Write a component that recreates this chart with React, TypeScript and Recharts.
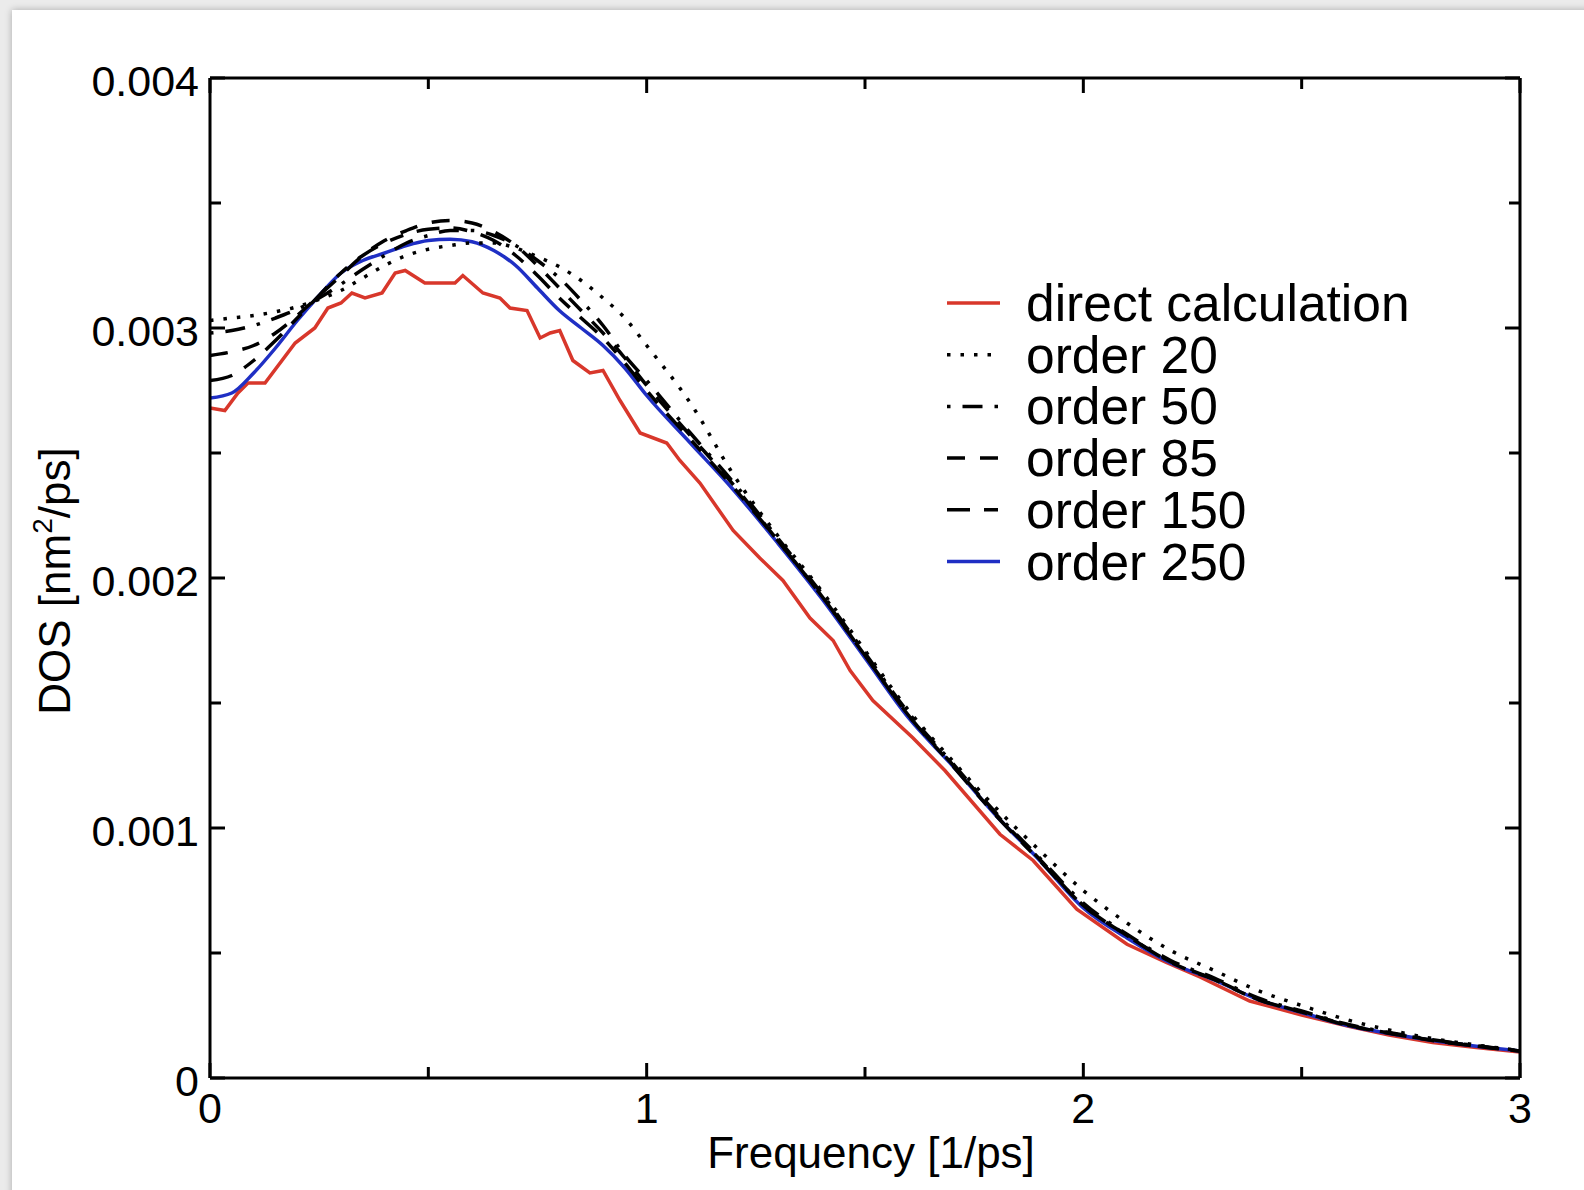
import { LineChart, Line, XAxis, YAxis, Legend } from 'recharts';

const FONT = '"Liberation Sans", Arial, Helvetica, sans-serif';

// direct calculation (red)
const directFreq = [
  0, 0.034, 0.064, 0.087, 0.126, 0.195, 0.24, 0.27, 0.3, 0.325, 0.355, 0.394, 0.424, 0.447, 0.492,
  0.561, 0.579, 0.625, 0.664, 0.687, 0.726, 0.756, 0.779, 0.801, 0.831, 0.87, 0.9, 0.939, 0.985,
  1.046, 1.076, 1.122, 1.198, 1.259, 1.312, 1.374, 1.427, 1.466, 1.518, 1.61, 1.683, 1.809, 1.885,
  1.985, 2.1, 2.19, 2.267, 2.381, 2.5, 2.61, 2.7, 2.8, 2.9, 3.0,
];
const directDos = [
  0.00268, 0.00267, 0.00274, 0.00278, 0.00278, 0.00294, 0.003, 0.00308, 0.0031, 0.00314, 0.00312,
  0.00314, 0.00322, 0.00323, 0.00318, 0.00318, 0.00321, 0.00314, 0.00312, 0.00308, 0.00307, 0.00296,
  0.00298, 0.00299, 0.00287, 0.00282, 0.00283, 0.00271, 0.00258, 0.00254, 0.00247, 0.00238, 0.00219,
  0.00208, 0.00199, 0.00184, 0.00175, 0.00163, 0.00151, 0.00136, 0.00123, 0.000975, 0.00087,
  0.000675, 0.000535, 0.000462, 0.000404, 0.000308, 0.000252, 0.000206, 0.000172, 0.000142,
  0.000122, 0.000104,
];

// common frequency grid for the expansion curves
const orderFreq = [
  0, 0.05, 0.1, 0.15, 0.2, 0.25, 0.3, 0.35, 0.4, 0.45, 0.5, 0.55, 0.6, 0.65, 0.7, 0.75, 0.8, 0.85,
  0.9, 0.95, 1.0, 1.1, 1.2, 1.3, 1.4, 1.5, 1.6, 1.7, 1.8, 1.9, 2.0, 2.1, 2.2, 2.3, 2.4, 2.5, 2.6,
  2.7, 2.8, 2.9, 3.0,
];
const order20 = [
  0.00303, 0.00304, 0.00305, 0.003065, 0.003085, 0.003115, 0.00315, 0.0032, 0.00325, 0.00329,
  0.003315, 0.00333, 0.00334, 0.00334, 0.00332, 0.003285, 0.003245, 0.00319, 0.00312, 0.00304,
  0.00293, 0.0027, 0.00241, 0.00217, 0.00195, 0.00171, 0.00147, 0.00127, 0.00108, 0.00091,
  0.00075, 0.00062, 0.00051, 0.00043, 0.00035, 0.00029, 0.000235, 0.000192, 0.000158, 0.000132,
  0.00011,
];
const order50 = [
  0.00298, 0.00299, 0.00301, 0.00304, 0.003075, 0.00312, 0.003175, 0.003235, 0.00329, 0.00334,
  0.00337, 0.00339, 0.00339, 0.00337, 0.00333, 0.00327, 0.0032, 0.00311, 0.00301, 0.00289, 0.00279,
  0.00258, 0.00238, 0.00216, 0.00194, 0.0017, 0.00146, 0.00126, 0.00106, 0.00088, 0.0007, 0.000575,
  0.00047, 0.0004, 0.00032, 0.000268, 0.000217, 0.000182, 0.000153, 0.000129, 0.000109,
];
const order85 = [
  0.00289, 0.002905, 0.00293, 0.00298, 0.00305, 0.00313, 0.00321, 0.00329, 0.00335, 0.00339,
  0.00342, 0.00343, 0.00342, 0.003385, 0.00333, 0.00325, 0.00316, 0.00307, 0.00298, 0.00288,
  0.00277, 0.00257, 0.00237, 0.00215, 0.00193, 0.00169, 0.00145, 0.001255, 0.001055, 0.000875,
  0.00069, 0.00057, 0.000465, 0.000395, 0.000315, 0.000265, 0.000214, 0.00018, 0.000151,
  0.000128, 0.000108,
];
const order150 = [
  0.00279, 0.00281, 0.00287, 0.00295, 0.00304, 0.00313, 0.00322, 0.00329, 0.00334, 0.003375,
  0.003395, 0.0034, 0.003385, 0.00335, 0.00329, 0.00321, 0.00312, 0.00304, 0.00296, 0.00286,
  0.00275, 0.002555, 0.00236, 0.00215, 0.00193, 0.00169, 0.00145, 0.00125, 0.00105, 0.00087,
  0.00069, 0.00057, 0.000463, 0.000393, 0.000314, 0.000264, 0.000213, 0.000179, 0.00015,
  0.000127, 0.000108,
];
const order250 = [
  0.00272, 0.00274, 0.00282, 0.00292, 0.00303, 0.00313, 0.00322, 0.00327, 0.0033, 0.00333, 0.00335,
  0.003355, 0.003345, 0.00331, 0.00325, 0.00316, 0.00307, 0.003, 0.00293, 0.00284, 0.00273, 0.00254,
  0.00235, 0.00214, 0.00192, 0.00168, 0.00144, 0.00125, 0.00105, 0.00087, 0.00068, 0.00056,
  0.00046, 0.000392, 0.000314, 0.000262, 0.000212, 0.000178, 0.00015, 0.000127, 0.000108,
];

const xTicks = [0, 0.5, 1, 1.5, 2, 2.5, 3];
const yTicks = [0, 0.0005, 0.001, 0.0015, 0.002, 0.0025, 0.003, 0.0035, 0.004];

const toPoints = (freq: number[], dos: number[]) => freq.map((f, i) => ({ f, v: dos[i] }));

interface SeriesDef {
  label: string;
  color: string;
  dash?: string;
  points: { f: number; v: number }[];
  type: 'linear' | 'monotone';
}

const DIRECT: SeriesDef = { label: 'direct calculation', color: '#d8372b', points: toPoints(directFreq, directDos), type: 'linear' };
const O20: SeriesDef = { label: 'order 20', color: '#000', dash: '3.5 10', points: toPoints(orderFreq, order20), type: 'monotone' };
const O50: SeriesDef = { label: 'order 50', color: '#000', dash: '3.5 12 20 12', points: toPoints(orderFreq, order50), type: 'monotone' };
const O85: SeriesDef = { label: 'order 85', color: '#000', dash: '18 15', points: toPoints(orderFreq, order85), type: 'monotone' };
const O150: SeriesDef = { label: 'order 150', color: '#000', dash: '23 14 14 14', points: toPoints(orderFreq, order150), type: 'monotone' };
const O250: SeriesDef = { label: 'order 250', color: '#1f2fc4', points: toPoints(orderFreq, order250), type: 'monotone' };

const LEGEND_ORDER = [DIRECT, O20, O50, O85, O150, O250];
const DRAW_ORDER = [DIRECT, O250, O20, O50, O85, O150];

const isMajorY = (v: number) => Math.abs(v * 1000 - Math.round(v * 1000)) < 1e-6;

function BottomTick({ x, y, payload }: any) {
  const major = Number.isInteger(payload.value);
  return (
    <g>
      <line x1={x} x2={x} y1={y} y2={y - (major ? 15 : 11)} stroke="#000" strokeWidth={3} />
      {major && (
        <text x={x} y={y + 14} dy="0.71em" textAnchor="middle" fontSize={43} fontFamily={FONT} fill="#000">
          {payload.value}
        </text>
      )}
    </g>
  );
}

function TopTick({ x, y, payload }: any) {
  const major = Number.isInteger(payload.value);
  return <line x1={x} x2={x} y1={y} y2={y + (major ? 15 : 11)} stroke="#000" strokeWidth={3} />;
}

function LeftTick({ x, y, payload }: any) {
  const major = isMajorY(payload.value);
  return (
    <g>
      <line x1={x} x2={x + (major ? 15 : 11)} y1={y} y2={y} stroke="#000" strokeWidth={3} />
      {major && (
        <text x={x - 11} y={y + 3} dy="0.355em" textAnchor="end" fontSize={43} fontFamily={FONT} fill="#000">
          {payload.value === 0 ? '0' : payload.value.toFixed(3)}
        </text>
      )}
    </g>
  );
}

function RightTick({ x, y, payload }: any) {
  const major = isMajorY(payload.value);
  return <line x1={x} x2={x - (major ? 15 : 11)} y1={y} y2={y} stroke="#000" strokeWidth={3} />;
}

function XTitle(props: any) {
  const vb = props.viewBox ?? { x: 210, y: 1078, width: 1310, height: 60 };
  return (
    <text x={vb.x + vb.width / 2 + 6} y={vb.y + 90} textAnchor="middle" fontSize={44} fontFamily={FONT} fill="#000">
      Frequency [1/ps]
    </text>
  );
}

function YTitle(props: any) {
  const vb = props.viewBox ?? { x: 110, y: 78, width: 100, height: 1000 };
  const cx = vb.x - 40;
  const cy = vb.y + vb.height / 2 + 3;
  return (
    <text x={cx} y={cy} transform={`rotate(-90 ${cx} ${cy})`} textAnchor="middle" fontSize={44} fontFamily={FONT} fill="#000">
      DOS [nm
      <tspan dy={-18} fontSize={28}>2</tspan>
      <tspan dy={18}>/ps]</tspan>
    </text>
  );
}

function LegendBox() {
  const rowH = 51.7;
  return (
    <svg width={520} height={330}>
      {LEGEND_ORDER.map((s, i) => {
        const cy = 33 + i * rowH;
        return (
          <g key={s.label}>
            <line x1={7} x2={60} y1={cy} y2={cy} stroke={s.color} strokeWidth={3.5} strokeDasharray={s.dash} />
            <text x={86} y={cy + 18} fontSize={51.5} fontFamily={FONT} fill="#000">
              {s.label}
            </text>
          </g>
        );
      })}
    </svg>
  );
}

export default function App() {
  return (
    <div style={{ position: 'absolute', left: 0, top: 0, width: 1584, height: 1190, overflow: 'hidden', background: '#ebebeb' }}>
      <div
        style={{
          position: 'absolute', left: 12, top: 10, width: 1600, height: 1200,
          background: '#fff', boxShadow: '0 0 7px rgba(0,0,0,0.28)',
        }}
      />
      <div style={{ position: 'absolute', left: 0, top: 0 }}>
        <LineChart width={1584} height={1190} margin={{ top: 58, right: 44, bottom: 52, left: 110 }} style={{ fontFamily: FONT }}>
          <XAxis
            xAxisId="bottom" dataKey="f" type="number" domain={[0, 3]} ticks={xTicks} interval={0}
            allowDataOverflow height={60} tickSize={0} tickMargin={0} tickLine={false}
            axisLine={{ stroke: '#000', strokeWidth: 3 }} tick={(p: any) => <BottomTick {...p} />}
            label={<XTitle />}
          />
          <XAxis
            xAxisId="top" orientation="top" dataKey="f" type="number" domain={[0, 3]} ticks={xTicks} interval={0}
            allowDataOverflow height={20} tickSize={0} tickMargin={0} tickLine={false}
            axisLine={{ stroke: '#000', strokeWidth: 3 }} tick={(p: any) => <TopTick {...p} />}
          />
          <YAxis
            yAxisId="left" type="number" domain={[0, 0.004]} ticks={yTicks} interval={0}
            allowDataOverflow width={100} tickSize={0} tickMargin={0} tickLine={false}
            axisLine={{ stroke: '#000', strokeWidth: 3 }} tick={(p: any) => <LeftTick {...p} />}
            label={<YTitle />}
          />
          <YAxis
            yAxisId="right" orientation="right" type="number" domain={[0, 0.004]} ticks={yTicks} interval={0}
            allowDataOverflow width={20} tickSize={0} tickMargin={0} tickLine={false}
            axisLine={{ stroke: '#000', strokeWidth: 3 }} tick={(p: any) => <RightTick {...p} />}
          />
          {DRAW_ORDER.map((s) => (
            <Line
              key={s.label}
              xAxisId="bottom"
              yAxisId="left"
              data={s.points}
              dataKey="v"
              type={s.type}
              stroke={s.color}
              strokeWidth={3.5}
              strokeDasharray={s.dash}
              dot={false}
              activeDot={false}
              isAnimationActive={false}
            />
          ))}
          <Legend
            layout="vertical"
            align="center"
            verticalAlign="middle"
            wrapperStyle={{ left: 940, top: 270, width: 520, height: 330 }}
            content={() => <LegendBox />}
          />
        </LineChart>
      </div>
    </div>
  );
}
